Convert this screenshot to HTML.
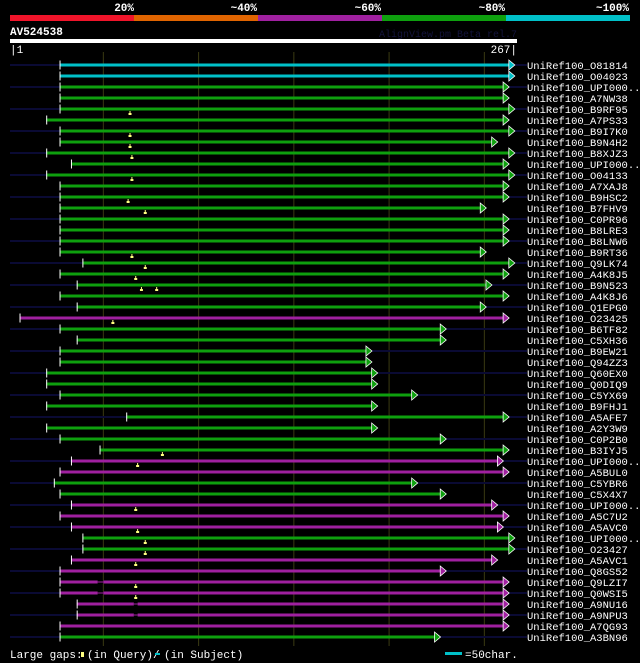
<!DOCTYPE html>
<html><head><meta charset="utf-8">
<style>
html,body{margin:0;padding:0;background:#000;}
svg{display:block;}
text{font-family:"Liberation Mono","DejaVu Sans Mono",monospace;}
</style></head>
<body>
<svg id="chart" width="640" height="663" viewBox="0 0 640 663" xmlns="http://www.w3.org/2000/svg">
  <g>
    <rect x="10" y="15" width="124" height="6" fill="#f0142a"/>
    <rect x="134" y="15" width="124" height="6" fill="#e06400"/>
    <rect x="258" y="15" width="124" height="6" fill="#a020a0"/>
    <rect x="382" y="15" width="124" height="6" fill="#0ea00e"/>
    <rect x="506" y="15" width="124" height="6" fill="#00c0c8"/>
    <text x="134" y="11" fill="#fff" font-size="11" font-weight="bold" text-anchor="end">20%</text>
    <text x="257" y="11" fill="#fff" font-size="11" font-weight="bold" text-anchor="end">~40%</text>
    <text x="381" y="11" fill="#fff" font-size="11" font-weight="bold" text-anchor="end">~60%</text>
    <text x="505" y="11" fill="#fff" font-size="11" font-weight="bold" text-anchor="end">~80%</text>
    <text x="629" y="11" fill="#fff" font-size="11" font-weight="bold" text-anchor="end">~100%</text>
  </g>
  <text x="10" y="35" fill="#fff" font-size="11" font-weight="bold">AV524538</text>
  <text x="517" y="37" fill="#14143c" font-size="10" text-anchor="end">AlignView.pm Beta rel.7</text>
  <rect x="10" y="39" width="507" height="4" fill="#fff"/>
  <text x="10" y="53" fill="#fff" font-size="11">|1</text>
  <text x="517" y="53" fill="#fff" font-size="11" text-anchor="end">267|</text>
  <g id="grid"></g>
  <g id="rows"></g>
  <g>
    <text x="10" y="658" fill="#fff" font-size="11">Large gaps:</text>
    <rect x="81" y="652" width="3" height="5" fill="#ffff80"/>
    <text x="87" y="658" fill="#fff" font-size="11">(in Query)/</text>
    <rect x="155" y="653" width="5" height="2" fill="#00c0c8"/>
    <text x="164" y="658" fill="#fff" font-size="11">(in Subject)</text>
    <rect x="445" y="652" width="17" height="3" fill="#00c0c8"/>
    <text x="465" y="658" fill="#fff" font-size="11">=50char.</text>
  </g>
</svg>
<script>
const labels = ["UniRef100_O81814","UniRef100_O04023","UniRef100_UPI000..","UniRef100_A7NW38","UniRef100_B9RF95","UniRef100_A7PS33","UniRef100_B9I7K0","UniRef100_B9N4H2","UniRef100_B8XJZ3","UniRef100_UPI000..","UniRef100_O04133","UniRef100_A7XAJ8","UniRef100_B9HSC2","UniRef100_B7FHV9","UniRef100_C0PR96","UniRef100_B8LRE3","UniRef100_B8LNW6","UniRef100_B9RT36","UniRef100_Q9LK74","UniRef100_A4K8J5","UniRef100_B9N523","UniRef100_A4K8J6","UniRef100_Q1EPG0","UniRef100_O23425","UniRef100_B6TF82","UniRef100_C5XH36","UniRef100_B9EW21","UniRef100_Q94ZZ3","UniRef100_Q60EX0","UniRef100_Q0DIQ9","UniRef100_C5YX69","UniRef100_B9FHJ1","UniRef100_A5AFE7","UniRef100_A2Y3W9","UniRef100_C0P2B0","UniRef100_B3IYJ5","UniRef100_UPI000..","UniRef100_A5BUL0","UniRef100_C5YBR6","UniRef100_C5X4X7","UniRef100_UPI000..","UniRef100_A5C7U2","UniRef100_A5AVC0","UniRef100_UPI000..","UniRef100_O23427","UniRef100_A5AVC1","UniRef100_Q8GS52","UniRef100_Q9LZI7","UniRef100_Q0WSI5","UniRef100_A9NU16","UniRef100_A9NPU3","UniRef100_A7QG93","UniRef100_A3BN96"];
const starts = [27,27,27,27,27,20,27,27,20,33,20,27,27,27,27,27,27,27,39,27,36,27,36,6,27,36,27,27,20,20,27,20,62,20,27,48,33,27,24,27,33,27,33,39,39,33,27,27,27,36,36,27,27];
const ends = [266,266,263,263,266,263,266,257,266,263,266,263,263,251,263,263,263,251,266,263,254,263,251,263,230,230,191,191,194,194,215,194,263,194,230,263,260,263,215,230,257,263,260,266,266,257,230,263,263,263,263,263,227];
// identity class: 4 = ~100% (cyan), 3 = ~80% (green), 2 = ~60% (magenta)
const identity = [4,4,3,3,3,3,3,3,3,3,3,3,3,3,3,3,3,3,3,3,3,3,3,2,3,3,3,3,3,3,3,3,3,3,3,3,2,2,3,3,2,2,2,3,3,2,2,2,2,2,2,2,3];
// 1 = subject extends beyond alignment (dark overhang drawn)
const overhang = [1,0,1,0,1,0,1,0,1,0,1,0,1,0,1,0,1,0,1,0,1,0,1,0,1,0,1,0,1,0,1,0,1,0,1,0,1,0,1,0,1,0,1,0,1,0,1,0,1,0,1,0,1];
const queryGapRows = [5,7,8,9,11,13,14,18,19,20,21,21,24,36,37,41,43,44,45,46,48,49];
const queryGapPos  = [64,64,64,65,65,63,72,65,72,67,70,78,55,81,68,67,68,72,72,67,67,67];
const subjectGapRows = [48,49,50,51];
const subjectGapFrom = [47,47,66,66];
const subjectGapTo   = [50,50,68,68];
const gridTicks = [50,100,150,200,250];

const svg = document.getElementById('chart');
const NS = 'http://www.w3.org/2000/svg';
const X0 = 10, PX = 1.905, Y0 = 65, ROW = 11;
function xs(p){ return X0 + (p - 1) * PX; }
function ys(i){ return Y0 + i * ROW; }
const colors = {4:'#00c0c8',3:'#0ea00e',2:'#a020a0'};
function mk(tag, attrs, parent){
  const e = document.createElementNS(NS, tag);
  for (const k in attrs) e.setAttribute(k, attrs[k]);
  parent.appendChild(e);
  return e;
}
const grid = document.getElementById('grid');
gridTicks.forEach(t => {
  const l = mk('line', {x1: xs(t), x2: xs(t), y1: 52, y2: 646, stroke: '#3a3a12', 'stroke-width': 1}, grid);
  
  
});
const rows = document.getElementById('rows');
labels.forEach((lab, i) => {
  const y = ys(i);
  const g = mk('g', {}, rows);
  
  
  const xs0 = xs(starts[i]), xe = xs(ends[i]);
  if (overhang[i]) {
    const n1 = mk('rect', {x: 10, y: y - 1, width: Math.max(0, xs0 - 10), height: 2, fill: '#0a0a34'}, g);
    
    
    const n2 = mk('rect', {x: xe, y: y - 1, width: Math.max(0, 527 - xe), height: 2, fill: '#0a0a34'}, g);
    
    
  }
  const c = colors[identity[i]];
  const bar = mk('rect', {x: xs0, y: y - 1.5, width: xe - 6 - xs0, height: 3, fill: c}, g);
  
  
  const tick = mk('line', {x1: xs0 + 0.5, x2: xs0 + 0.5, y1: y - 4.5, y2: y + 4.5, stroke: '#fff', 'stroke-width': 1}, g);
  
  
  const arr = mk('polygon', {points: `${xe-6},${y-5} ${xe},${y} ${xe-6},${y+5}`, fill: c, stroke: '#fff', 'stroke-width': 0.8}, g);
  
  
  const t = mk('text', {x: 527, y: y + 4, fill: '#fff', 'font-size': 10.5}, g);
  t.textContent = lab;
  
  
});
subjectGapRows.forEach((r, k) => {
  const y = ys(r - 1);
  const a = xs(subjectGapFrom[k]), b = xs(subjectGapTo[k]);
  const gp = mk('rect', {x: a, y: y - 1.5, width: b - a, height: 3, fill: '#000'}, rows);
  
  
  const gl = mk('rect', {x: a, y: y - 0.5, width: b - a, height: 1, fill: '#a020a0'}, rows);
  
  
});
queryGapRows.forEach((r, k) => {
  const y = ys(r - 1);
  const x = xs(queryGapPos[k]);
  const m1 = mk('rect', {x: x - 0.5, y: y + 2, width: 1, height: 2, fill: '#ffff80'}, rows);
  
  
  const m2 = mk('rect', {x: x - 1.5, y: y + 4, width: 3, height: 2, fill: '#ffff80'}, rows);
  
  
});
</script>
</body></html>
